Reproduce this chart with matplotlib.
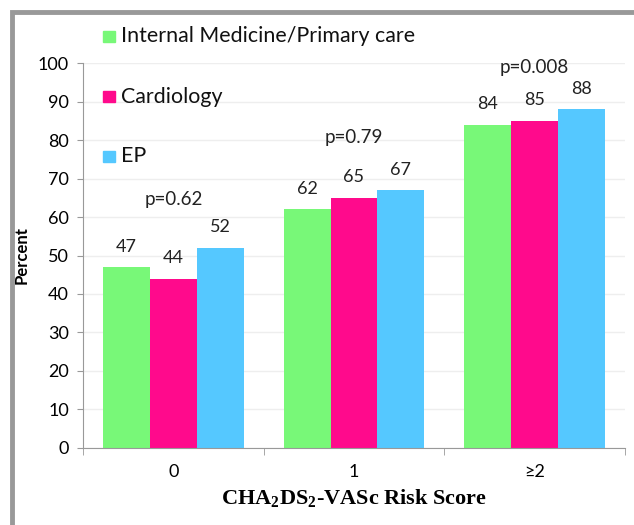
import matplotlib
matplotlib.use("Agg")
import matplotlib.pyplot as plt
import numpy as np
from matplotlib.patches import Rectangle

categories = ["0", "1", "\u22652"]
series_names = ["Internal Medicine/Primary care", "Cardiology", "EP"]
internal_medicine = [47, 62, 84]
cardiology = [44, 65, 85]
ep = [52, 67, 88]
p_labels = ["p=0.62", "p=0.79", "p=0.008"]
p_heights = [64.5, 80.6, 99]

colors = ["#78f878", "#ff0a8c", "#55c8ff"]

plt.rcParams["font.family"] = ["Lato", "DejaVu Sans"]
plt.rcParams["mathtext.fontset"] = "custom"
plt.rcParams["mathtext.rm"] = "Liberation Serif:bold"
plt.rcParams["mathtext.bf"] = "Liberation Serif:bold"

W, H = 634, 525
fig = plt.figure(figsize=(W / 100, H / 100), dpi=100)
ax = fig.add_axes([83 / W, 1 - 447.7 / H, (625 - 83) / W, (447.7 - 63.3) / H])

x = np.arange(len(categories))
width = 0.26
values = [internal_medicine, cardiology, ep]
for i, (vals, col) in enumerate(zip(values, colors)):
    pos = x + (i - 1) * width
    ax.bar(pos, vals, width=width, color=col, zorder=2)
    for px, v in zip(pos, vals):
        ax.annotate(str(v), (px, v), xytext=(0, 9), textcoords="offset points",
                    ha="center", va="bottom", fontsize=13, color="#222222")

for xi, lab, h in zip(x, p_labels, p_heights):
    ax.text(xi, h, lab, ha="center", va="center", fontsize=13.5, color="#222222")

ax.set_xlim(-0.5, 2.5)
ax.set_ylim(0, 100)
ax.set_yticks(np.arange(0, 101, 10))
ax.set_xticks(x)
ax.set_xticklabels(categories, fontsize=13)
ax.set_xticks([-0.5, 0.5, 1.5, 2.5], minor=True)
ax.tick_params(axis="x", which="major", length=0, pad=12)
ax.tick_params(axis="x", which="minor", length=5, color="#999999")
ax.tick_params(axis="y", length=4, color="#999999", labelsize=13, pad=6)
ax.grid(axis="y", color="#eeeeee", linewidth=1, zorder=0)
for s in ["top", "right"]:
    ax.spines[s].set_visible(False)
for s in ["left", "bottom"]:
    ax.spines[s].set_color("#999999")

ax.set_ylabel("Percent", fontsize=12, fontweight="bold", labelpad=6)
ax.set_xlabel(r"CHA$_2$DS$_2$-VASc Risk Score", fontsize=16, fontweight="bold",
              family="Liberation Serif", labelpad=5)

# manual legend
for i, (name, col) in enumerate(zip(series_names, colors)):
    yc = 36.5 + 60 * i
    fig.patches.append(Rectangle((103 / W, 1 - (yc + 5.5) / H), 12 / W, 11 / H,
                                 transform=fig.transFigure, color=col))
    fig.text(121 / W, 1 - yc / H, name, ha="left", va="center", fontsize=15.4, color="#111111")

# outer frame
fig.patches.append(Rectangle((12 / W, -0.1), 1.2, 1 - 12 / H + 0.1, transform=fig.transFigure,
                             fill=False, edgecolor="#999999", linewidth=3.5))

fig.savefig("out.png", dpi=100)
